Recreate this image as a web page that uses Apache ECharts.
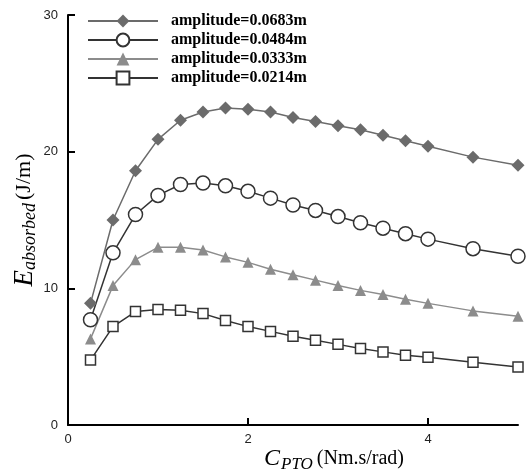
<!DOCTYPE html>
<html>
<head>
<meta charset="utf-8">
<script src="https://cdn.jsdelivr.net/npm/echarts@6/dist/echarts.min.js"></script>
<style>
html, body { margin: 0; padding: 0; background: #fff; }
#chart { width: 527px; height: 473px; }
</style>
</head>
<body>
<div id="chart"></div>
<script>
// C_PTO values (Nm.s/rad)
const cpto = [0.25, 0.5, 0.75, 1.0, 1.25, 1.5, 1.75, 2.0, 2.25, 2.5, 2.75, 3.0, 3.25, 3.5, 3.75, 4.0, 4.5, 5.0];

// absorbed energy (J/m) per amplitude
const amp0683 = [8.9, 15.0, 18.6, 20.9, 22.3, 22.9, 23.2, 23.1, 22.9, 22.5, 22.2, 21.9, 21.6, 21.2, 20.8, 20.4, 19.6, 19.0];
const amp0484 = [7.7, 12.6, 15.4, 16.8, 17.6, 17.7, 17.5, 17.1, 16.6, 16.1, 15.7, 15.25, 14.8, 14.4, 14.0, 13.6, 12.9, 12.35];
const amp0333 = [6.3, 10.2, 12.1, 13.0, 13.0, 12.8, 12.3, 11.9, 11.4, 11.0, 10.6, 10.2, 9.85, 9.55, 9.2, 8.9, 8.35, 7.95];
const amp0214 = [4.75, 7.2, 8.3, 8.45, 8.4, 8.15, 7.65, 7.2, 6.85, 6.5, 6.2, 5.9, 5.6, 5.35, 5.1, 4.95, 4.6, 4.25];

const names = ['amplitude=0.0683m', 'amplitude=0.0484m', 'amplitude=0.0333m', 'amplitude=0.0214m'];
const xTicks = [0, 2, 4];
const yTicks = [0, 10, 20, 30];

const pairs = ys => cpto.map((x, i) => [x, ys[i]]);

const chart = echarts.init(document.getElementById('chart'));

function lineSeries(name, ys, symbol, size, color, fill) {
    return {
        name: name,
        type: 'line',
        data: pairs(ys),
        symbol: symbol,
        symbolSize: size,
        showAllSymbol: true,
        lineStyle: { color: color, width: 1.5 },
        itemStyle: { color: fill, borderColor: color, borderWidth: fill === '#fff' ? 1.5 : 0 },
        emphasis: { disabled: true },
        z: 3
    };
}

const option = {
    animation: false,
    backgroundColor: '#fff',
    grid: { left: 68, right: 9, top: 15, bottom: 48, containLabel: false, outerBoundsMode: 'none' },
    legend: {
        left: 87,
        top: 13,
        padding: 0,
        orient: 'vertical',
        itemWidth: 70,
        itemHeight: 16,
        itemGap: 3,
        textStyle: {
            fontFamily: 'Liberation Serif',
            fontWeight: 'bold',
            fontSize: 16,
            color: '#000',
            padding: [0, 0, 0, 8]
        },
        data: names
    },
    xAxis: {
        type: 'value',
        min: 0,
        max: 5,
        interval: 2,
        name: '{c|C}{s|PTO}{t|(Nm.s/rad)}',
        nameLocation: 'middle',
        nameGap: 20,
        nameMoveOverlap: false,
        nameTextStyle: {
            padding: [0, 0, 0, 82],
            rich: {
                c: { fontFamily: 'Liberation Serif', fontStyle: 'italic', fontSize: 24, color: '#000' },
                s: { fontFamily: 'Liberation Serif', fontStyle: 'italic', fontSize: 17, color: '#000', padding: [11, 4, 0, 1] },
                t: { fontFamily: 'Liberation Serif', fontSize: 20, color: '#000' }
            }
        },
        axisLine: { lineStyle: { color: '#000', width: 2 } },
        axisTick: { inside: true, length: 7, customValues: xTicks, lineStyle: { color: '#000', width: 2 } },
        axisLabel: { customValues: xTicks, color: '#222', fontFamily: 'Liberation Sans', fontSize: 13, margin: 8 },
        splitLine: { show: false }
    },
    yAxis: {
        type: 'value',
        min: 0,
        max: 30,
        interval: 10,
        name: '{e|E}{s|absorbed}{t|(J/m)}',
        nameLocation: 'middle',
        nameGap: 29,
        nameMoveOverlap: false,
        nameTextStyle: {
            rich: {
                e: { fontFamily: 'Liberation Serif', fontStyle: 'italic', fontSize: 27, color: '#000' },
                s: { fontFamily: 'Liberation Serif', fontStyle: 'italic', fontSize: 18, color: '#000', padding: [11, 3, 0, 0] },
                t: { fontFamily: 'Liberation Serif', fontSize: 22, color: '#000' }
            }
        },
        axisLine: { show: true, lineStyle: { color: '#000', width: 2 } },
        axisTick: { show: true, inside: true, length: 7, lineStyle: { color: '#000', width: 2 } },
        axisLabel: { customValues: yTicks, color: '#222', fontFamily: 'Liberation Sans', fontSize: 13, margin: 10 },
        splitLine: { show: false }
    },
    series: [
        lineSeries(names[0], amp0683, 'diamond', 13, '#6b6b6b', '#6b6b6b'),
        lineSeries(names[1], amp0484, 'circle', 14, '#333', '#fff'),
        lineSeries(names[2], amp0333, 'triangle', 11, '#8c8c8c', '#8c8c8c'),
        lineSeries(names[3], amp0214, 'rect', 10, '#333', '#fff')
    ]
};

chart.setOption(option);
</script>
</body>
</html>
